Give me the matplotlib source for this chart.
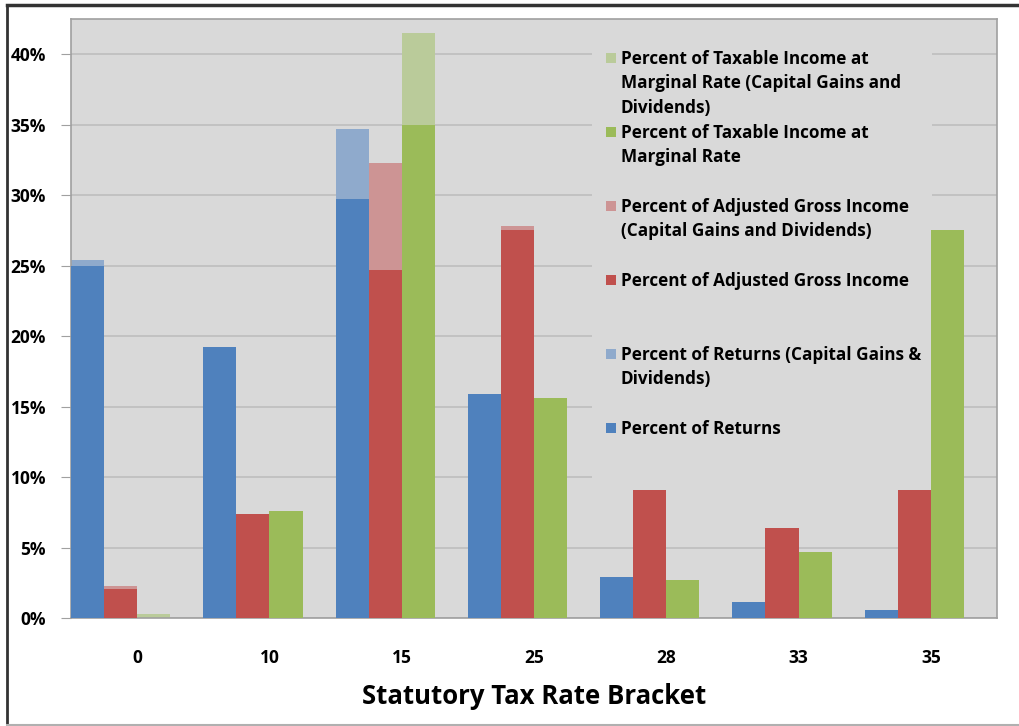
import numpy as np
import matplotlib
matplotlib.use("Agg")
import matplotlib.pyplot as plt
from matplotlib.patches import Rectangle
from matplotlib.lines import Line2D
from matplotlib.ticker import PercentFormatter

brackets = ["0", "10", "15", "25", "28", "33", "35"]

# base shares, in percent
returns_pct = [25.0, 19.2, 29.7, 15.9, 2.9, 1.1, 0.6]
agi_pct = [2.05, 7.4, 24.7, 27.5, 9.1, 6.4, 9.1]
taxable_pct = [0.0, 7.6, 35.0, 15.6, 2.7, 4.7, 27.5]

# shares once capital gains and dividends are counted
returns_cg_pct = [25.4, 19.2, 34.7, 15.9, 2.9, 1.1, 0.6]
agi_cg_pct = [2.3, 7.4, 32.3, 27.8, 9.1, 6.4, 9.1]
taxable_cg_pct = [0.3, 7.6, 41.5, 15.6, 2.7, 4.7, 27.5]

legend_labels = [
    "Percent of Taxable Income at\nMarginal Rate (Capital Gains and\nDividends)",
    "Percent of Taxable Income at\nMarginal Rate",
    "Percent of Adjusted Gross Income\n(Capital Gains and Dividends)",
    "Percent of Adjusted Gross Income",
    "Percent of Returns (Capital Gains &\nDividends)",
    "Percent of Returns",
]

BLUE, RED, GREEN = "#4F81BD", "#C0504D", "#9BBB59"
BLUE_L, RED_L, GREEN_L = "#8FAACC", "#CD9494", "#BACB9A"
BG = "#D9D9D9"
FONT = "Open Sans"

W, H = 1019, 726
fig = plt.figure(figsize=(W / 100, H / 100), dpi=100)
ax = fig.add_axes([71 / W, 1 - 618 / H, (997 - 71) / W, (618 - 19) / H])
ax.set_facecolor(BG)

x = np.arange(len(brackets))
bw = 0.25
# bars start at the left edge of each bracket slot
series = [
    (returns_cg_pct, returns_pct, BLUE_L, BLUE, -0.375),
    (agi_cg_pct, agi_pct, RED_L, RED, -0.125),
    (taxable_cg_pct, taxable_pct, GREEN_L, GREEN, 0.125),
]
for total, base, c_light, c_dark, off in series:
    ax.bar(x + off, total, bw, color=c_light, zorder=2)
    ax.bar(x + off, base, bw, color=c_dark, zorder=3)

ax.set_xlim(-0.5, len(brackets) - 0.5)
ax.set_ylim(0, 42.5)
ax.set_yticks(np.arange(0, 41, 5))
ax.yaxis.set_major_formatter(PercentFormatter(decimals=0))
ax.set_xticks(x)
ax.set_xticklabels(brackets)
ax.grid(axis="y", color="#BEBEBE", linewidth=1.2, zorder=0)
ax.set_axisbelow(True)
ax.tick_params(axis="x", length=0, pad=22)
ax.tick_params(axis="y", length=7, color="#A0A0A0", pad=11)
for lbl in ax.get_xticklabels() + ax.get_yticklabels():
    lbl.set_fontfamily(FONT)
    lbl.set_fontweight("bold")
    lbl.set_fontsize(12.5)
for s in ax.spines.values():
    s.set_color("#A0A0A0")
    s.set_linewidth(1.2)

ax.set_xlabel("Statutory Tax Rate Bracket", fontfamily=FONT, fontweight="bold",
              fontsize=18.5, labelpad=12)

# legend panel hides the grid behind it
ax.add_patch(Rectangle((592 / W, 1 - 492 / H), (932 - 592) / W, (492 - 38) / H,
                       transform=fig.transFigure, facecolor=BG, edgecolor="none",
                       zorder=1))
legend_colors = [GREEN_L, GREEN, RED_L, RED, BLUE_L, BLUE]
for i, (lab, col) in enumerate(zip(legend_labels, legend_colors)):
    ytop = 53 + 74 * i
    fig.patches.append(Rectangle((606 / W, 1 - (ytop + 10) / H), 10 / W, 10 / H,
                                 transform=fig.transFigure, facecolor=col,
                                 edgecolor="none"))
    fig.text(621 / W, 1 - (ytop - 3) / H, lab, fontfamily=FONT, fontweight="bold",
             fontsize=12.3, va="top", ha="left", linespacing=1.45)

# outer chart border
fig.add_artist(Line2D([7 / W, 7 / W], [1 - 725 / H, 1 - 5 / H], color="#333333",
                      linewidth=2, transform=fig.transFigure))
fig.add_artist(Line2D([7 / W, 1], [1 - 5 / H, 1 - 5 / H], color="#333333",
                      linewidth=2.5, transform=fig.transFigure))
fig.add_artist(Line2D([7 / W, 1], [1 - 725 / H, 1 - 725 / H], color="#B0B0B0",
                      linewidth=1.5, transform=fig.transFigure))

fig.savefig("out.png", dpi=100)
